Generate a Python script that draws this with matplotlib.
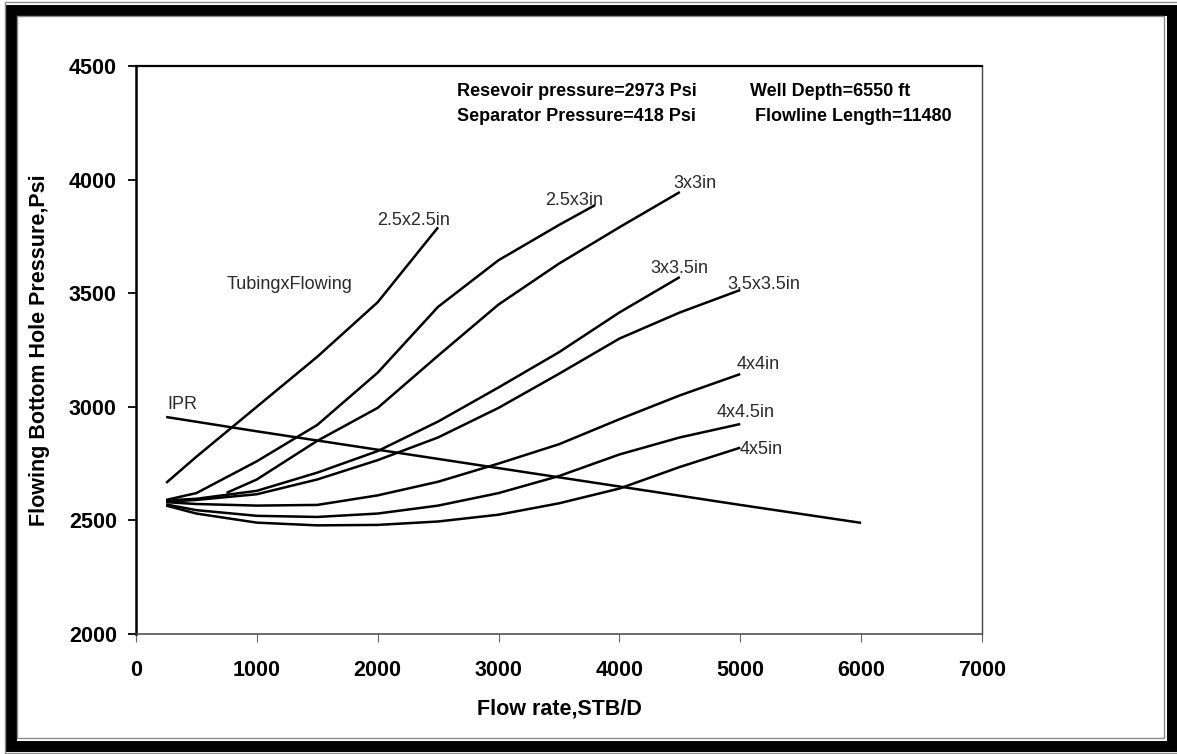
import matplotlib
matplotlib.use("Agg")
import matplotlib.pyplot as plt
from matplotlib.patches import Rectangle

plt.rcParams['font.family'] = ['Liberation Sans', 'DejaVu Sans']

# IPR line (reservoir inflow)
q_ipr = [250, 1000, 2000, 3000, 4000, 5000, 6000]
p_ipr = [2955, 2892, 2811, 2730, 2649, 2568, 2489]

# tubing x flowline outflow curves
q_25x25 = [250, 500, 1000, 1500, 2000, 2500]
p_25x25 = [2665, 2780, 3000, 3220, 3460, 3790]

q_25x3 = [250, 500, 1000, 1500, 2000, 2500, 3000, 3500, 3800]
p_25x3 = [2590, 2620, 2760, 2920, 3150, 3440, 3645, 3800, 3888]

q_3x3 = [750, 1000, 1500, 2000, 2500, 3000, 3500, 4000, 4500]
p_3x3 = [2621, 2680, 2850, 2995, 3225, 3450, 3630, 3790, 3945]

q_3x35 = [250, 500, 1000, 1500, 2000, 2500, 3000, 3500, 4000, 4500]
p_3x35 = [2588, 2595, 2630, 2710, 2805, 2935, 3085, 3240, 3415, 3571]

q_35x35 = [250, 500, 1000, 1500, 2000, 2500, 3000, 3500, 4000, 4500, 5000]
p_35x35 = [2582, 2590, 2615, 2680, 2765, 2865, 2995, 3145, 3300, 3415, 3514]

q_4x4 = [250, 500, 1000, 1500, 2000, 2500, 3000, 3500, 4000, 4500, 5000]
p_4x4 = [2580, 2572, 2565, 2568, 2610, 2670, 2750, 2835, 2945, 3050, 3144]

q_4x45 = [250, 500, 1000, 1500, 2000, 2500, 3000, 3500, 4000, 4500, 5000]
p_4x45 = [2570, 2545, 2520, 2515, 2530, 2565, 2620, 2695, 2790, 2865, 2924]

q_4x5 = [250, 500, 1000, 1500, 2000, 2500, 3000, 3500, 4000, 4500, 5000]
p_4x5 = [2565, 2530, 2490, 2478, 2480, 2495, 2525, 2575, 2640, 2735, 2820]

curves = [
    (q_25x25, p_25x25), (q_25x3, p_25x3), (q_3x3, p_3x3), (q_3x35, p_3x35),
    (q_35x35, p_35x35), (q_4x4, p_4x4), (q_4x45, p_4x45), (q_4x5, p_4x5),
]

# curve labels: text, x, y
curve_labels = [
    ("2.5x2.5in", 1994, 3822),
    ("TubingxFlowing", 753, 3536),
    ("IPR", 257, 3012),
    ("2.5x3in", 3384, 3910),
    ("3x3in", 4443, 3981),
    ("3x3.5in", 4253, 3607),
    ("3.5x3.5in", 4890, 3536),
    ("4x4in", 4973, 3184),
    ("4x4.5in", 4807, 2973),
    ("4x5in", 4997, 2810),
]

x_ticks = [0, 1000, 2000, 3000, 4000, 5000, 6000, 7000]
y_ticks = [2000, 2500, 3000, 3500, 4000, 4500]

fig = plt.figure(figsize=(11.77, 7.54), dpi=100)
ax = fig.add_axes([0.1155, 0.1592, 0.7188, 0.7533])

for q, p in curves:
    ax.plot(q, p, color='black', lw=1.8, solid_capstyle='butt', solid_joinstyle='round')
ax.plot(q_ipr, p_ipr, color='black', lw=1.8, solid_capstyle='butt')

for txt, x, y in curve_labels:
    ax.text(x, y, txt, fontsize=13, color='#2a2a2a', ha='left', va='center')

# well data
ax.text(2656, 4386, "Resevoir pressure=2973 Psi", fontsize=13, fontweight='bold', va='center')
ax.text(2656, 4276, "Separator Pressure=418 Psi", fontsize=13, fontweight='bold', va='center')
ax.text(5080, 4386, "Well Depth=6550 ft", fontsize=13, fontweight='bold', va='center')
ax.text(5122, 4276, "Flowline Length=11480", fontsize=13, fontweight='bold', va='center')

ax.set_xlim(0, 7000)
ax.set_ylim(2000, 4500)
ax.set_xticks(x_ticks)
ax.set_yticks(y_ticks)
ax.set_xticklabels([str(v) for v in x_ticks], fontsize=15.5, fontweight='bold')
ax.set_yticklabels([str(v) for v in y_ticks], fontsize=15.5, fontweight='bold')
ax.tick_params(axis='y', direction='out', length=5.8, width=1.3, pad=8, color='black')
ax.tick_params(axis='x', direction='out', length=5.8, width=0.8, pad=13, color='#666666')

ax.spines['left'].set_linewidth(1.8)
ax.spines['top'].set_linewidth(1.6)
ax.spines['bottom'].set_linewidth(1.1)
ax.spines['bottom'].set_color('#444444')
ax.spines['right'].set_linewidth(1.0)
ax.spines['right'].set_color('#444444')

ax.set_xlabel("Flow rate,STB/D", fontsize=15.5, fontweight='bold')
ax.set_ylabel("Flowing Bottom Hole Pressure,Psi", fontsize=15.5, fontweight='bold')
ax.xaxis.set_label_coords(0.5, -0.113)
ax.yaxis.set_label_coords(-0.102, 0.5)

# picture frame around the whole chart
W, H = 1177.0, 754.0
def frame(x0, y0, x1, y1, color, lw):
    fig.add_artist(Rectangle((x0 / W, 1 - y1 / H), (x1 - x0) / W, (y1 - y0) / H,
                             transform=fig.transFigure, fill=False,
                             edgecolor=color, linewidth=lw))

frame(11, 9.5, 1171.5, 745.5, 'black', 7.9)
frame(16.5, 16.2, 1164, 738.3, '#8a8a8a', 1.0)
frame(4.5, 1.5, 1180, 753, '#8a8a8a', 1.0)

fig.savefig("out.png", dpi=100)
